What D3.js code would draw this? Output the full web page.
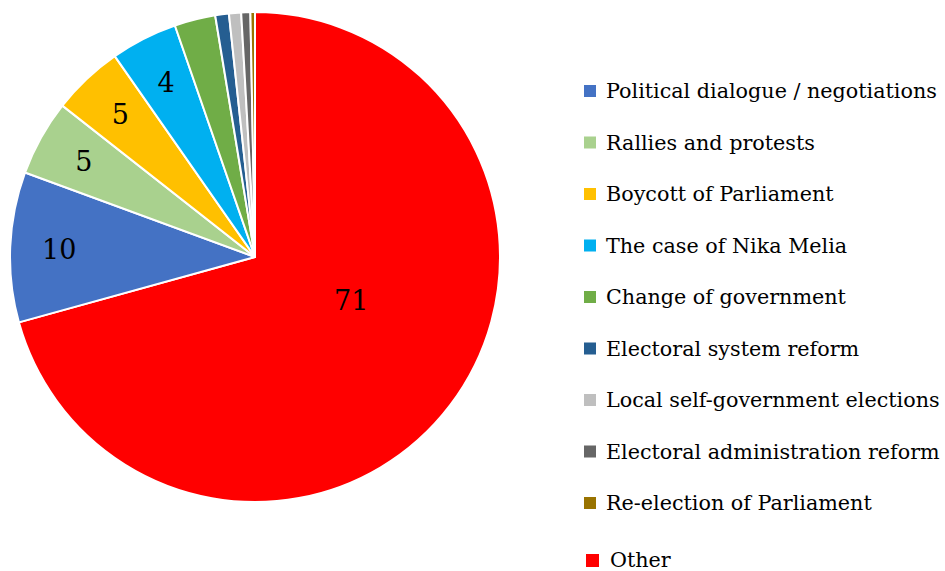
<!DOCTYPE html>
<head>
    <title>Pie chart of topics</title>
</head>
<meta charset="utf-8">

<script src="https://d3js.org/d3.v7.min.js"></script>

<body style="margin:0;background:#fff">
<div id="my_dataviz"></div>
<script>

    var categories = ["Other", "Political dialogue / negotiations", "Rallies and protests",
      "Boycott of Parliament", "The case of Nika Melia", "Change of government",
      "Electoral system reform", "Local self-government elections",
      "Electoral administration reform", "Re-election of Parliament"]
    var values = [70.7, 9.9, 5.0, 4.7, 4.4, 2.7, 0.9, 0.8, 0.6, 0.3]
    var labels = ["71", "10", "5", "5", "4", "", "", "", "", ""]
    var colors = ["#ff0000", "#4472c4", "#a9d18e", "#ffc000", "#00b0f0",
      "#70ad47", "#255e91", "#bfbfbf", "#666666", "#997300"]
    // legend lists "Other" last
    var legendOrder = [1, 2, 3, 4, 5, 6, 7, 8, 9, 0]

    var width = 945, height = 571
    var cx = 255, cy = 257, radius = 245
    var font = "DejaVu Serif, Liberation Serif, serif"

    var svg = d3.select("#my_dataviz")
      .append("svg")
        .attr("width", width)
        .attr("height", height)

    var data = categories.map(function(c, i) {
      return {name: c, value: values[i], label: labels[i], color: colors[i]}
    })

    var pie = d3.pie()
      .sort(null)
      .value(function(d) { return d.value })

    var arcs = pie(data)

    var arc = d3.arc().innerRadius(0).outerRadius(radius)
    var labelArc = d3.arc().innerRadius(radius * 0.8).outerRadius(radius * 0.8)

    var g = svg.append("g")
      .attr("transform", "translate(" + cx + "," + cy + ")")

    g.selectAll("slice")
      .data(arcs)
      .enter()
      .append("path")
        .attr("d", arc)
        .style("fill", function(d) { return d.data.color })
        .style("stroke", "#fff")
        .style("stroke-width", 2)
        .style("stroke-linejoin", "round")

    // labels: the big slice gets its label pulled in towards the centre
    g.selectAll("lbl")
      .data(arcs.filter(function(d) { return d.data.label != "" }))
      .enter()
      .append("text")
        .attr("transform", function(d) {
          var p
          if (d.endAngle - d.startAngle > Math.PI) {
            var a = (d.startAngle + d.endAngle) / 2 - 0.23
            p = [Math.sin(a) * radius * 0.43, -Math.cos(a) * radius * 0.43]
          } else {
            p = labelArc.centroid(d)
          }
          return "translate(" + p[0] + "," + p[1] + ")"
        })
        .attr("text-anchor", "middle")
        .attr("dy", "0.36em")
        .attr("font-family", font)
        .attr("font-size", "27px")
        .style("fill", "#000")
        .text(function(d) { return d.data.label })

    var legY = d3.scalePoint()
      .domain(d3.range(9))
      .range([91, 503])

    var leg = svg.selectAll("leg")
      .data(legendOrder)
      .enter()
      .append("g")
        .attr("transform", function(idx, i) {
          if (i < 9) return "translate(584," + legY(i) + ")"
          return "translate(586,560)"
        })

    leg.append("rect")
      .attr("x", 0)
      .attr("y", -6)
      .attr("width", function(idx, i) { return i < 9 ? 12 : 13 })
      .attr("height", function(idx, i) { return i < 9 ? 12 : 13 })
      .style("fill", function(idx) { return colors[idx] })

    leg.append("text")
      .attr("x", function(idx, i) { return i < 9 ? 22 : 24 })
      .attr("y", 7)
      .attr("font-family", font)
      .attr("font-size", "20.7px")
      .style("fill", "#000")
      .text(function(idx) { return categories[idx] })

</script>
</body>
